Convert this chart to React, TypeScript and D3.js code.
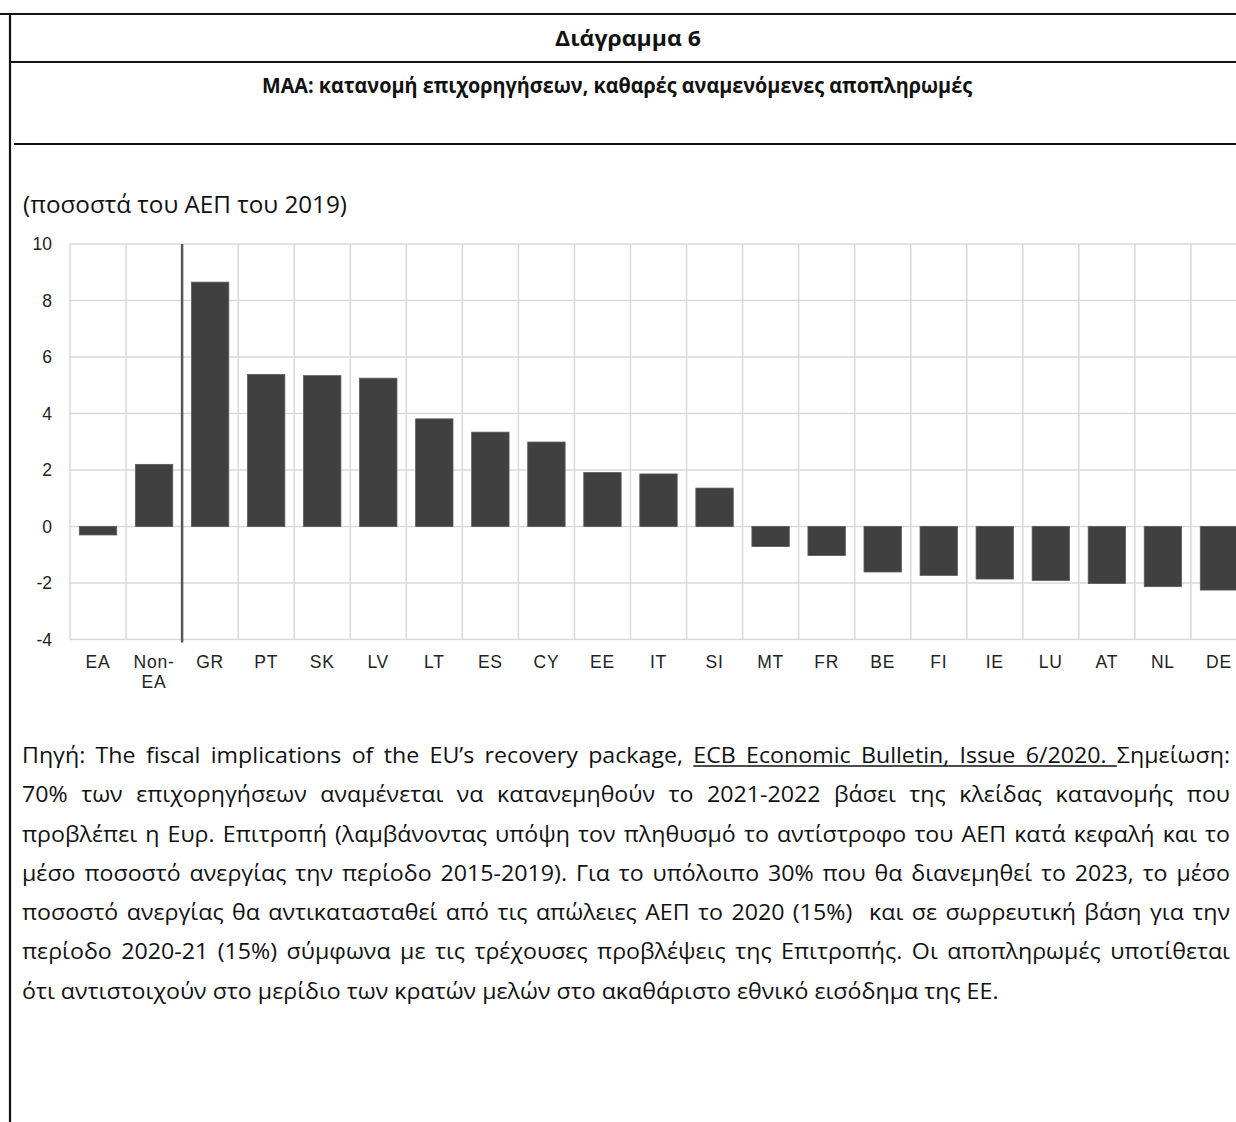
import React, { useEffect, useRef } from 'react';
import * as d3 from 'd3';

const categories = ['EA', 'Non-EA', 'GR', 'PT', 'SK', 'LV', 'LT', 'ES', 'CY', 'EE', 'IT', 'SI', 'MT', 'FR', 'BE', 'FI', 'IE', 'LU', 'AT', 'NL', 'DE'];
const values = [-0.3, 2.2, 8.65, 5.38, 5.34, 5.25, 3.81, 3.34, 2.99, 1.91, 1.86, 1.36, -0.71, -1.03, -1.61, -1.73, -1.86, -1.91, -2.02, -2.13, -2.25];
const yTicks = [-4, -2, 0, 2, 4, 6, 8, 10];

const chartTitle = 'Διάγραμμα 6';
const chartSubtitle = 'ΜΑΑ: κατανομή επιχορηγήσεων, καθαρές αναμενόμενες αποπληρωμές';
const unitLabel = '(ποσοστά του ΑΕΠ του 2019)';
const noteLink = 'ECB Economic Bulletin, Issue 6/2020.';
const noteLines = [
  'Πηγή: The fiscal implications of the EU’s recovery package, ECB Economic Bulletin, Issue 6/2020. Σημείωση:',
  '70% των επιχορηγήσεων αναμένεται να κατανεμηθούν το 2021-2022 βάσει της κλείδας κατανομής που',
  'προβλέπει η Ευρ. Επιτροπή (λαμβάνοντας υπόψη τον πληθυσμό το αντίστροφο του ΑΕΠ κατά κεφαλή και το',
  'μέσο ποσοστό ανεργίας την περίοδο 2015-2019). Για το υπόλοιπο 30% που θα διανεμηθεί το 2023, το μέσο',
  'ποσοστό ανεργίας θα αντικατασταθεί από τις απώλειες ΑΕΠ το 2020 (15%)  και σε σωρρευτική βάση για την',
  'περίοδο 2020-21 (15%) σύμφωνα με τις τρέχουσες προβλέψεις της Επιτροπής. Οι αποπληρωμές υποτίθεται',
  'ότι αντιστοιχούν στο μερίδιο των κρατών μελών στο ακαθάριστο εθνικό εισόδημα της ΕΕ.',
];

const W = 1236;
const H = 1122;
const plot = { left: 70, right: 1247, top: 244, bottom: 639.5 };
const textFont = "'Open Sans', 'Noto Sans', sans-serif";
const axisFont = "'Liberation Sans', Arial, sans-serif";

// footnote box: left edge, justified right edge, last line's right edge
const note = { left: 22, right: 1230, lastRight: 999, top: 763, step: 39.3, size: 21.5 };

const App = () => {
  const noteRef = useRef<SVGGElement>(null);

  const x = d3.scaleBand<string>().domain(categories).range([plot.left, plot.right]).padding(0);
  const y = d3.scaleLinear().domain([-4, 10]).range([plot.bottom, plot.top]);
  const barW = x.bandwidth() * 0.667;
  const gridX = [...categories.map((c) => x(c)!), plot.right];

  useEffect(() => {
    const g = d3.select(noteRef.current);
    g.selectAll('*').remove();

    const probe = g.append('text')
      .attr('font-family', textFont)
      .attr('font-size', note.size)
      .text(noteLines[noteLines.length - 1]);
    const natural = (probe.node() as SVGTextElement).getComputedTextLength();
    probe.remove();
    // squeeze horizontally so the wide fallback font takes Calibri's width
    const sx = (note.lastRight - note.left) / natural;

    const inner = g.append('g')
      .attr('transform', `scale(${sx},1)`)
      .attr('font-family', textFont)
      .attr('font-size', note.size)
      .attr('fill', '#111');

    noteLines.forEach((line, i) => {
      const yy = note.top + i * note.step;
      if (i === noteLines.length - 1) {
        inner.append('text').attr('x', note.left / sx).attr('y', yy).text(line);
        return;
      }
      const words = line.split(' ');
      const nodes = words.map((w) => inner.append('text').attr('y', yy).text(w));
      const widths = nodes.map((n) => (n.node() as SVGTextElement).getComputedTextLength());
      const gap = Math.max(2, ((note.right - note.left) / sx - d3.sum(widths)) / (words.length - 1));
      const starts: number[] = [];
      let cx = note.left / sx;
      nodes.forEach((n, j) => {
        n.attr('x', cx);
        starts.push(cx);
        cx += widths[j] + gap;
      });

      if (i === 0) {
        const linkWords = noteLink.split(' ');
        const k = words.indexOf(linkWords[0]);
        if (k >= 0) {
          const end = k + linkWords.length;
          const x2 = end < words.length ? starts[end] : cx;
          inner.append('line')
            .attr('x1', starts[k]).attr('x2', x2)
            .attr('y1', yy + 3).attr('y2', yy + 3)
            .attr('stroke', '#111').attr('stroke-width', 1.3);
        }
      }
    });
  }, []);

  return (
    <svg width={W} height={H} style={{ position: 'absolute', left: 0, top: 0, background: '#fff' }}>
      {/* frame */}
      <g stroke="#111" strokeWidth={2.2}>
        <line x1={0} x2={W} y1={14} y2={14} />
        <line x1={10} x2={W} y1={62} y2={62} />
        <line x1={14} x2={W} y1={144} y2={144} />
        <line x1={10} x2={10} y1={14} y2={H} />
      </g>

      <text x={628} y={46} textAnchor="middle" fontFamily={textFont} fontWeight="bold" fontSize={21}
        textLength={146} lengthAdjust="spacingAndGlyphs" fill="#111">{chartTitle}</text>
      <text x={617} y={93} textAnchor="middle" fontFamily={textFont} fontWeight="bold" fontSize={21}
        textLength={710} lengthAdjust="spacingAndGlyphs" fill="#111">{chartSubtitle}</text>
      <text x={23} y={213} fontFamily={textFont} fontSize={23}
        textLength={324} lengthAdjust="spacingAndGlyphs" fill="#111">{unitLabel}</text>

      {/* grid */}
      <g stroke="#d9d9d9" strokeWidth={1.5}>
        {yTicks.map((t) => (
          <line key={`h${t}`} x1={plot.left} x2={plot.right} y1={y(t)} y2={y(t)} />
        ))}
        {gridX.map((gx, i) => (
          <line key={`v${i}`} x1={gx} x2={gx} y1={plot.top} y2={plot.bottom} />
        ))}
      </g>

      {/* bars */}
      <g fill="#404040" stroke="#5a5a5a" strokeWidth={0.8}>
        {categories.map((c, i) => (
          <rect key={c}
            x={x(c)! + (x.bandwidth() - barW) / 2}
            y={y(Math.max(0, values[i]))}
            width={barW}
            height={Math.abs(y(values[i]) - y(0))} />
        ))}
      </g>

      {/* separator between aggregates and countries */}
      <line x1={x('GR')!} x2={x('GR')!} y1={plot.top} y2={plot.bottom + 3} stroke="#555" strokeWidth={2.5} />

      {/* y tick labels */}
      <g fontFamily={axisFont} fontSize={17.5} fill="#222" textAnchor="end">
        {yTicks.map((t) => (
          <text key={t} x={52} y={y(t)} dy="0.35em">{t}</text>
        ))}
      </g>

      {/* x labels */}
      <g fontFamily={axisFont} fontSize={17.5} fill="#222" textAnchor="middle" letterSpacing={0.8}>
        {categories.map((c) => {
          const parts = c.includes('-') ? [c.slice(0, c.indexOf('-') + 1), c.slice(c.indexOf('-') + 1)] : [c];
          return (
            <text key={c} x={x(c)! + x.bandwidth() / 2} y={668}>
              {parts.map((p, j) => (
                <tspan key={j} x={x(c)! + x.bandwidth() / 2} dy={j === 0 ? 0 : 20}>{p}</tspan>
              ))}
            </text>
          );
        })}
      </g>

      <g ref={noteRef} />
    </svg>
  );
};

export default App;
